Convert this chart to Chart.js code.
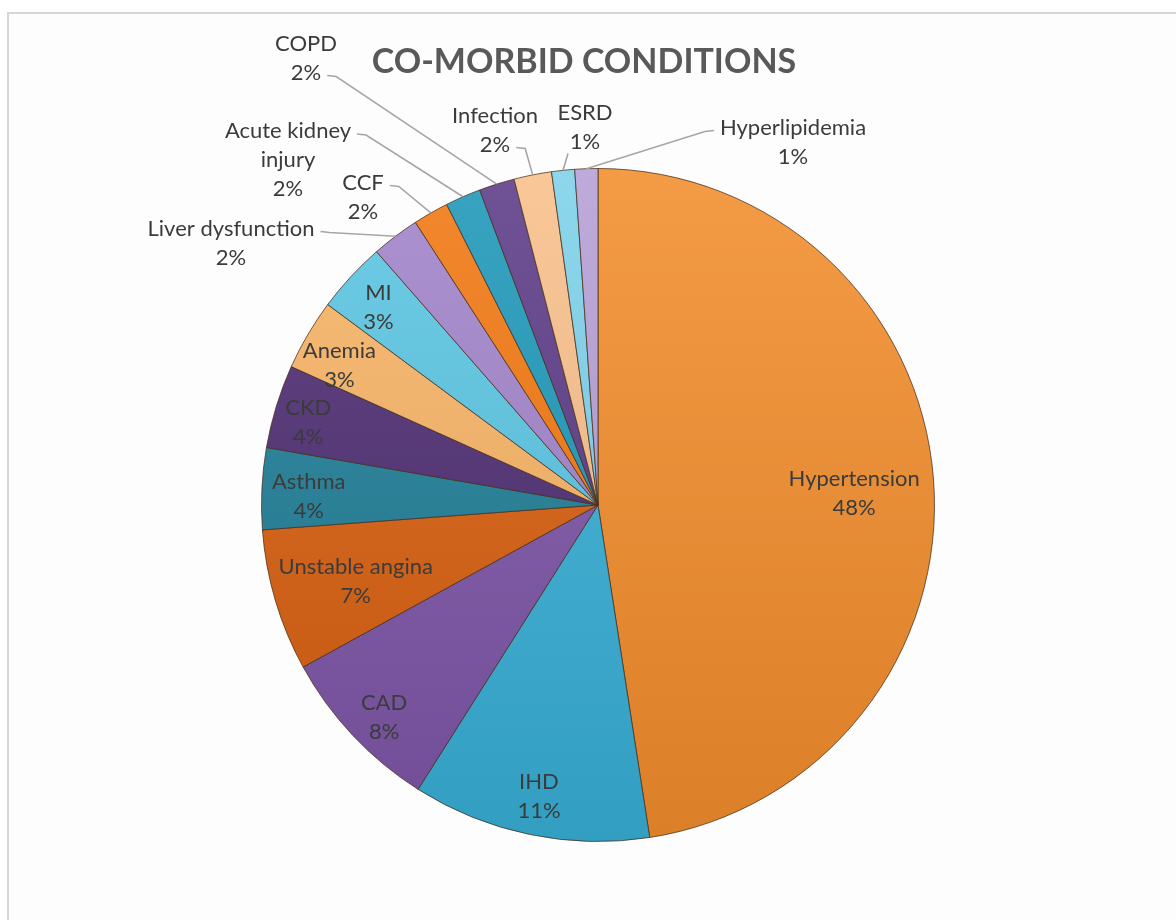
<!DOCTYPE html>
<html>
<head>
<meta charset="utf-8">
<title>Co-morbid conditions</title>
<script src="https://cdn.jsdelivr.net/npm/chart.js@4.4.1/dist/chart.umd.min.js"></script>
<style>
  html, body { margin: 0; padding: 0; background: #ffffff; }
  #frame {
    position: absolute; left: 7px; top: 12px; width: 1200px; height: 950px;
    border-left: 2px solid #d6d6d6; border-top: 2px solid #d6d6d6;
    background: #fdfdfd;
  }
  #wrap { position: absolute; left: 0; top: 0; width: 1176px; height: 920px; }
</style>
</head>
<body>
<div id="frame"></div>
<div id="wrap"><canvas id="comorbidChart" width="1176" height="920"></canvas></div>
<script>
// Co-morbid conditions, share of patients (%)
const conditions = [
    'Hypertension', 'IHD', 'CAD', 'Unstable angina', 'Asthma', 'CKD', 'Anemia', 'MI',
    'Liver dysfunction', 'CCF', 'Acute kidney injury', 'COPD', 'Infection', 'ESRD', 'Hyperlipidemia'
];
const shares = [47.4, 11.4, 8.0, 6.8, 3.9, 4.0, 3.4, 3.4, 2.3, 1.7, 1.7, 1.7, 1.8, 1.1, 1.1];

const sliceColors = [
    '#f38d2c', '#38b0d6', '#7d55a8', '#d9600f', '#1f7f98', '#4e2d72', '#f8b466', '#5ac5e3',
    '#a283cb', '#f27811', '#1d98b8', '#5c3a88', '#f9bf8b', '#7dd2ea', '#b59fd6'
];

// label text lines (multi-line where the chart wraps them)
const labelLines = {
    10: ['Acute kidney', 'injury']
};

// inside labels: distance from centre (fraction of radius) and angle nudge (degrees)
const insideLabels = {
    0: { r: 0.762, da: 1.8 }, 1: { r: 0.885, da: -0.3 }, 2: { r: 0.895, da: -1.5 },
    3: { r: 0.755, da: -1 }, 4: { r: 0.86, da: -1 }, 5: { r: 0.895, da: -1.2 },
    6: { r: 0.874, da: -2 }, 7: { r: 0.878, da: -0.7 }
};

// outside labels: block centre relative to pie centre, and where the leader leaves the text
const outsideLabels = {
    8:  { dx: -367, dy: -262, leader: 'right1' },
    9:  { dx: -235, dy: -308, leader: 'right1' },
    10: { dx: -310, dy: -345, leader: 'right1' },
    11: { dx: -292, dy: -447, leader: 'right2' },
    12: { dx: -103, dy: -375, leader: 'right2' },
    13: { dx: -13,  dy: -378, leader: 'bottom' },
    14: { dx: 195,  dy: -363, leader: 'left1' }
};

function shade(hex, amt) {
    const n = parseInt(hex.slice(1), 16);
    let r = (n >> 16) & 255, g = (n >> 8) & 255, b = n & 255;
    const f = v => Math.max(0, Math.min(255, Math.round(amt >= 0 ? v + (255 - v) * amt : v * (1 + amt))));
    return 'rgb(' + f(r) + ',' + f(g) + ',' + f(b) + ')';
}

const sliceLabels = {
    id: 'sliceLabels',
    afterDatasetsDraw(chart) {
        const ctx = chart.ctx;
        const meta = chart.getDatasetMeta(0);
        const total = shares.reduce((a, b) => a + b, 0);
        const lineH = 29;
        ctx.save();
        ctx.font = '22px Lato';
        ctx.textAlign = 'center';
        ctx.textBaseline = 'middle';
        meta.data.forEach((arc, i) => {
            const p = arc.getProps(['x', 'y', 'startAngle', 'endAngle', 'outerRadius'], true);
            const mid = (p.startAngle + p.endAngle) / 2;
            const lines = (labelLines[i] || [conditions[i]]).concat(Math.round(shares[i] / total * 100) + '%');
            let cx, cy;
            const inner = insideLabels[i];
            if (inner) {
                const a = mid + inner.da * Math.PI / 180;
                const r = p.outerRadius * inner.r;
                cx = p.x + r * Math.cos(a);
                cy = p.y + r * Math.sin(a);
            } else {
                const o = outsideLabels[i];
                cx = p.x + o.dx;
                cy = p.y + o.dy;
            }
            const top = cy - (lines.length - 1) * lineH / 2;
            ctx.fillStyle = '#3b3b3b';
            lines.forEach((t, k) => ctx.fillText(t, cx, top + k * lineH));

            const o = outsideLabels[i];
            if (!o) return;
            const ex = p.x + p.outerRadius * Math.cos(mid);
            const ey = p.y + p.outerRadius * Math.sin(mid);
            const last = lines.length - 1;
            let sx, sy, kx;
            if (o.leader === 'right1' || o.leader === 'right2') {
                const k = o.leader === 'right1' ? 0 : last;
                sx = cx + ctx.measureText(lines[k]).width / 2 + 6;
                sy = top + k * lineH + 3;
                kx = sx + 9;
            } else if (o.leader === 'left1') {
                sx = cx - ctx.measureText(lines[0]).width / 2 - 6;
                sy = top + 3;
                kx = sx - 9;
            } else {
                sx = cx - 17;
                sy = top + last * lineH + 12;
                kx = sx;
            }
            ctx.strokeStyle = '#a6a6a6';
            ctx.lineWidth = 1.6;
            ctx.beginPath();
            ctx.moveTo(sx, sy);
            ctx.lineTo(kx, sy + (kx === sx ? 0 : 1));
            ctx.lineTo(ex, ey);
            ctx.stroke();
        });

        // chart title
        ctx.font = 'bold 34px Lato';
        ctx.fillStyle = '#595959';
        ctx.fillText('CO-MORBID CONDITIONS', 584, 62);
        ctx.restore();
    }
};

const comorbidChart = new Chart(document.getElementById('comorbidChart'), {
    type: 'pie',
    data: {
        labels: conditions,
        datasets: [{
            data: shares,
            backgroundColor: (c) => {
                const base = sliceColors[c.dataIndex];
                const area = c.chart.chartArea;
                if (!area) return base;
                const g = c.chart.ctx.createLinearGradient(0, area.top, 0, area.bottom);
                g.addColorStop(0, shade(base, 0.12));
                g.addColorStop(1, shade(base, -0.1));
                return g;
            },
            borderColor: 'rgba(70,45,25,0.75)',
            borderWidth: 1,
            hoverBorderWidth: 1,
            hoverOffset: 0
        }]
    },
    options: {
        responsive: false,
        animation: false,
        layout: { padding: { left: 261, right: 241, top: 168, bottom: 78 } },
        plugins: {
            legend: { display: false },
            tooltip: { enabled: false },
            title: { display: false }
        }
    },
    plugins: [sliceLabels]
});
</script>
</body>
</html>
